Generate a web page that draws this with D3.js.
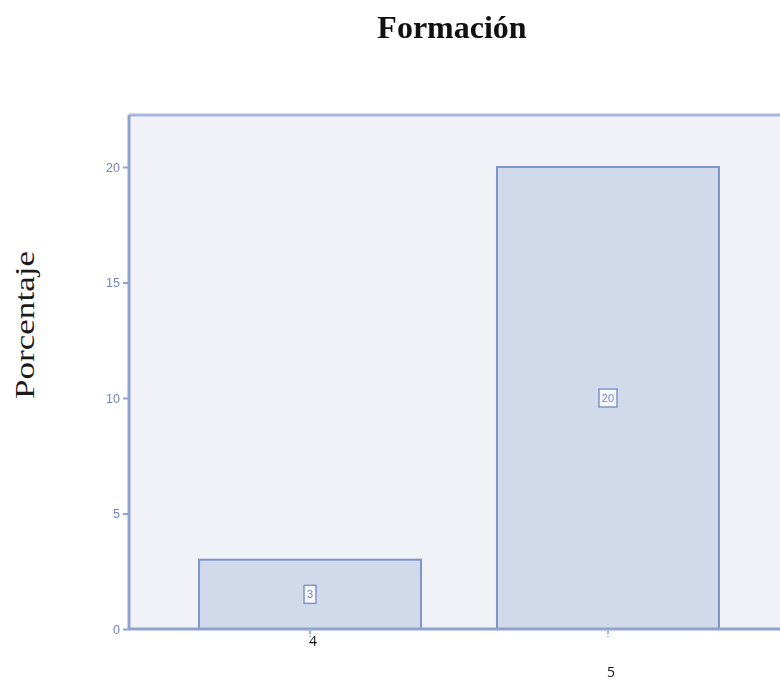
<!DOCTYPE html>
<html>
<head>
<meta charset="utf-8">
<script src="https://cdn.jsdelivr.net/npm/d3@7"></script>
<style>
  html, body { margin: 0; padding: 0; background: #ffffff; }
  svg { display: block; }
</style>
</head>
<body>
<svg id="chart" width="780" height="681"></svg>
<script>
// Formación: percentage per category
const categories = ["4", "5"];
const percentages = [3, 20];
const yTicks = [0, 5, 10, 15, 20];
const title = "Formación";
const yTitle = "Porcentaje";

const svg = d3.select("#chart");
const W = 780, H = 681;

const plot = { left: 129, top: 115, bottom: 629, right: 789 };

const y = d3.scaleLinear().domain([0, 20]).range([plot.bottom, 167]);
const x = d3.scaleBand().domain(categories)
  .range([plot.left, plot.right])
  .paddingInner(0.255).paddingOuter(0.235);

const axisColor = "#8fa3d2";
const barStroke = "#7d95c8";
const barFill = "#d0daea";
const textBlue = "#6f86bd";

const defs = svg.append("defs");
defs.append("filter").attr("id", "soft")
  .append("feGaussianBlur").attr("stdDeviation", 0.45);

const g = svg.append("g").attr("filter", "url(#soft)");

// plot background
g.append("rect")
  .attr("x", plot.left).attr("y", plot.top)
  .attr("width", W - plot.left + 5).attr("height", plot.bottom - plot.top)
  .attr("fill", "#f1f2f8");

// bars
g.selectAll("rect.bar").data(categories).join("rect")
  .attr("class", "bar")
  .attr("x", d => x(d))
  .attr("y", (d, i) => y(percentages[i]))
  .attr("width", x.bandwidth())
  .attr("height", (d, i) => y(0) - y(percentages[i]))
  .attr("fill", barFill)
  .attr("stroke", barStroke)
  .attr("stroke-width", 2);

// frame: top border
g.append("line")
  .attr("x1", plot.left).attr("x2", W + 5)
  .attr("y1", plot.top).attr("y2", plot.top)
  .attr("stroke", "#a7b7dc").attr("stroke-width", 3);

// y axis
const yAxis = d3.axisLeft(y).tickValues(yTicks).tickSize(6).tickPadding(3);
const ya = g.append("g").attr("transform", `translate(${plot.left},0)`).call(yAxis);
ya.select(".domain").attr("stroke", axisColor).attr("stroke-width", 3)
  .attr("d", `M0,${plot.top}V${plot.bottom}`);
ya.selectAll(".tick line").attr("stroke", axisColor).attr("stroke-width", 2);
ya.selectAll(".tick text")
  .attr("fill", textBlue)
  .attr("font-family", "Liberation Sans, Arial, sans-serif")
  .attr("font-size", 12.5);

// x axis
const xAxis = d3.axisBottom(x).tickSize(8).tickFormat("");
const xa = g.append("g").attr("transform", `translate(0,${plot.bottom})`).call(xAxis);
xa.select(".domain").attr("stroke", axisColor).attr("stroke-width", 3)
  .attr("d", `M${plot.left},0H${W + 5}`);
xa.selectAll(".tick line").attr("stroke", "#a3b3da").attr("stroke-width", 2)
  .attr("stroke-dasharray", "5,2,2,10");

// value labels in small boxes
const labels = g.selectAll("g.vlab").data(categories).join("g")
  .attr("class", "vlab")
  .attr("transform", (d, i) =>
    `translate(${x(d) + x.bandwidth() / 2},${y(percentages[i] / 2)})`);
labels.append("rect")
  .attr("x", (d, i) => String(percentages[i]).length > 1 ? -9 : -6)
  .attr("y", -9)
  .attr("width", (d, i) => String(percentages[i]).length > 1 ? 18 : 12)
  .attr("height", 18)
  .attr("fill", "#f7f8fc")
  .attr("stroke", barStroke)
  .attr("stroke-width", 1.5);
labels.append("text")
  .attr("text-anchor", "middle")
  .attr("dy", "0.35em")
  .attr("fill", textBlue)
  .attr("font-family", "Liberation Sans, Arial, sans-serif")
  .attr("font-size", 11)
  .text((d, i) => percentages[i]);

// category labels below axis
const catOffsets = [646, 677];
svg.selectAll("text.cat").data(categories).join("text")
  .attr("class", "cat")
  .attr("x", d => x(d) + x.bandwidth() / 2 + 3)
  .attr("y", (d, i) => catOffsets[i])
  .attr("text-anchor", "middle")
  .attr("font-family", "Open Sans, Liberation Sans, sans-serif")
  .attr("font-size", 14)
  .attr("fill", "#111")
  .text(d => d);

// title
svg.append("text")
  .attr("x", 452).attr("y", 38)
  .attr("text-anchor", "middle")
  .attr("font-family", "Liberation Serif, Times New Roman, serif")
  .attr("font-weight", "bold")
  .attr("font-size", 32)
  .attr("fill", "#111")
  .text(title);

// y-axis title (stretched along its length)
svg.append("text")
  .attr("transform", "translate(34,325) rotate(-90) scale(1.3,1)")
  .attr("text-anchor", "middle")
  .attr("font-family", "Liberation Serif, Times New Roman, serif")
  .attr("font-size", 27)
  .attr("fill", "#1a1a1a")
  .text(yTitle);
</script>
</body>
</html>
